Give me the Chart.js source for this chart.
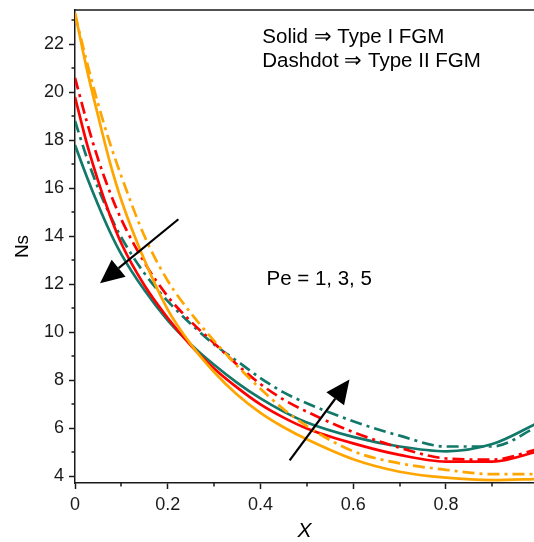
<!DOCTYPE html>
<html>
<head>
<meta charset="utf-8">
<script src="https://cdn.jsdelivr.net/npm/chart.js@4.4.1/dist/chart.umd.min.js"></script>
<style>
  html,body{margin:0;padding:0;background:#fff}
  #wrap{width:534px;height:542px}
</style>
</head>
<body>
<div id="wrap"><canvas id="c" width="534" height="542"></canvas></div>
<script>
// ── data ────────────────────────────────────────────────────────────────────
const xs       = [0, 0.025, 0.05, 0.075, 0.1, 0.15, 0.2, 0.25, 0.3, 0.35, 0.4, 0.45, 0.5, 0.6, 0.7, 0.8, 0.9, 1.0];
// Type I FGM (solid)
const orangeI  = [23.3, 21.0, 19.0, 17.1, 15.5, 13.0, 10.95, 9.5, 8.35, 7.4, 6.65, 6.05, 5.55, 4.72, 4.2, 3.95, 3.85, 3.9];
const redI     = [19.8, 17.9, 16.3, 14.9, 13.7, 11.95, 10.6, 9.45, 8.5, 7.7, 7.0, 6.45, 6.0, 5.38, 4.9, 4.62, 4.62, 5.05];
const tealI    = [17.8, 16.5, 15.3, 14.2, 13.25, 11.75, 10.5, 9.5, 8.65, 7.9, 7.25, 6.7, 6.25, 5.65, 5.25, 5.05, 5.35, 6.25];
// Type II FGM (dashdot)
const orangeII = [23.25, 21.3, 19.5, 17.9, 16.5, 14.0, 12.15, 10.8, 9.65, 8.6, 7.65, 6.8, 6.1, 5.05, 4.55, 4.28, 4.1, 4.1];
const redII    = [20.6, 18.8, 17.2, 15.85, 14.7, 12.9, 11.5, 10.45, 9.55, 8.65, 7.85, 7.2, 6.7, 5.85, 5.2, 4.75, 4.7, 5.15];
const tealII   = [18.8, 17.3, 16.0, 14.9, 13.95, 12.45, 11.3, 10.35, 9.5, 8.8, 8.1, 7.5, 7.05, 6.3, 5.7, 5.25, 5.25, 6.1];

const xTicks = [0, 0.2, 0.4, 0.6, 0.8];
const xMinor = [0.1, 0.3, 0.5, 0.7, 0.9];
const yTicks = [4, 6, 8, 10, 12, 14, 16, 18, 20, 22];
const yMinor = [5, 7, 9, 11, 13, 15, 17, 19, 21, 23];

// annotations, in data units
const notes = [
  { text: "Solid \u21D2 Type I FGM",    x: 0.404, y: 22.04 },
  { text: "Dashdot \u21D2 Type II FGM", x: 0.404, y: 21.04 },
  { text: "Pe = 1, 3, 5",               x: 0.413, y: 11.96 },
];
const arrows = [
  { from: [0.223, 14.71], to: [0.054, 12.04] },
  { from: [0.463, 4.67],  to: [0.592, 8.04] },
];

const C = { orange:"#FFA500", red:"#FF0000", teal:"#12786A", ink:"#1a1a1a" };
const FONT = "'Liberation Sans', Arial, Helvetica, sans-serif";
const DASHDOT = [12, 5, 3, 5];

function series(label, ys, color, dash){
  return { label, data: xs.map((x,i)=>({ x, y: ys[i] })), borderColor: color, borderWidth: 2.7,
           borderDash: dash || [], pointRadius: 0, fill: false, cubicInterpolationMode: "monotone" };
}

// minor ticks, top frame, arrows and notes
const extras = {
  id: "extras",
  afterDraw(chart){
    const { ctx, chartArea: a, scales: { x, y } } = chart;
    ctx.save();
    ctx.strokeStyle = C.ink; ctx.lineWidth = 1.5;
    ctx.beginPath();
    ctx.moveTo(a.left, a.top); ctx.lineTo(a.right, a.top);
    yMinor.forEach(v=>{ const p = Math.round(y.getPixelForValue(v)); ctx.moveTo(a.left-3.5, p); ctx.lineTo(a.left, p); });
    xMinor.forEach(v=>{ const p = Math.round(x.getPixelForValue(v)); if(p<=a.right){ ctx.moveTo(p, a.bottom); ctx.lineTo(p, a.bottom+3.5); } });
    ctx.stroke();

    // arrows
    ctx.fillStyle = "#000"; ctx.strokeStyle = "#000"; ctx.lineWidth = 2.2;
    arrows.forEach(ar=>{
      const x0 = x.getPixelForValue(ar.from[0]), y0 = y.getPixelForValue(ar.from[1]);
      const x1 = x.getPixelForValue(ar.to[0]),   y1 = y.getPixelForValue(ar.to[1]);
      const ang = Math.atan2(y1-y0, x1-x0), L = 24, W = 11;
      const bx = x1 - L*Math.cos(ang), by = y1 - L*Math.sin(ang);
      ctx.beginPath(); ctx.moveTo(x0, y0); ctx.lineTo(bx, by); ctx.stroke();
      ctx.beginPath();
      ctx.moveTo(x1, y1);
      ctx.lineTo(bx + W*Math.sin(ang), by - W*Math.cos(ang));
      ctx.lineTo(bx - W*Math.sin(ang), by + W*Math.cos(ang));
      ctx.closePath(); ctx.fill();
    });

    // notes
    ctx.fillStyle = "#000"; ctx.font = `20.5px ${FONT}`; ctx.textBaseline = "alphabetic"; ctx.textAlign = "left";
    notes.forEach(n=> ctx.fillText(n.text, x.getPixelForValue(n.x), y.getPixelForValue(n.y)));
    ctx.restore();
  }
};

const tickFont = { family: FONT, size: 18, lineHeight: 1 };

new Chart(document.getElementById("c"), {
  type: "line",
  data: { datasets: [
    series("Pe=5 Type I",  orangeI,  C.orange),
    series("Pe=5 Type II", orangeII, C.orange, DASHDOT),
    series("Pe=3 Type I",  redI,     C.red),
    series("Pe=3 Type II", redII,    C.red, DASHDOT),
    series("Pe=1 Type I",  tealI,    C.teal),
    series("Pe=1 Type II", tealII,   C.teal, DASHDOT),
  ]},
  options: {
    responsive: false, animation: false, devicePixelRatio: 1,
    layout: { padding: { top: 10, left: 0, right: 0, bottom: 0 } },
    plugins: { legend: { display: false }, tooltip: { enabled: false } },
    scales: {
      x: {
        type: "linear", min: 0, max: 0.99,
        afterBuildTicks: s => { s.ticks = xTicks.map(v=>({ value: v })); },
        afterFit: s => { s.height = 59; s.paddingLeft = 0; s.paddingRight = 0; },
        ticks: { font: tickFont, color: C.ink, padding: 7, maxRotation: 0,
                 callback: v => v === 0 ? "0" : v.toFixed(1) },
        grid: { drawOnChartArea: false, drawTicks: true, tickLength: 6, tickColor: C.ink, tickWidth: 1.5 },
        border: { display: true, color: C.ink, width: 1.5 },
        title: { display: true, text: "X", color: "#000", padding: { top: 0, bottom: 0 },
                 font: { family: FONT, size: 21, style: "italic", lineHeight: 1 } },
      },
      y: {
        type: "linear", min: 3.73, max: 23.42,
        afterBuildTicks: s => { s.ticks = yTicks.map(v=>({ value: v })); },
        afterFit: s => { s.width = 75; s.paddingTop = 0; s.paddingBottom = 0; },
        ticks: { font: tickFont, color: C.ink, padding: 5 },
        grid: { drawOnChartArea: false, drawTicks: true, tickLength: 6, tickColor: C.ink, tickWidth: 1.5 },
        border: { display: true, color: C.ink, width: 1.5 },
        title: { display: true, text: "Ns", color: "#000", padding: { top: 13, bottom: 0 },
                 font: { family: FONT, size: 19, lineHeight: 1 } },
      },
    },
  },
  plugins: [extras],
});
</script>
</body>
</html>
